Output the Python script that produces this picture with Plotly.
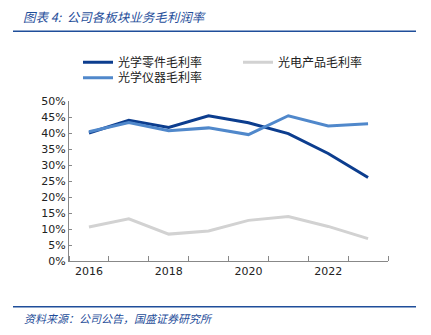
import plotly.graph_objects as go

years = [2016, 2017, 2018, 2019, 2020, 2021, 2022, 2023]
optical_parts = [0.400, 0.440, 0.417, 0.454, 0.432, 0.398, 0.336, 0.261]
optoelectronic = [0.106, 0.132, 0.084, 0.094, 0.127, 0.139, 0.108, 0.070]
optical_instruments = [0.404, 0.433, 0.407, 0.416, 0.395, 0.454, 0.422, 0.429]
series_names = ["光学零件毛利率", "光电产品毛利率", "光学仪器毛利率"]
year_ticks = [2016, 2018, 2020, 2022]
pct_ticks = [0, 0.05, 0.10, 0.15, 0.20, 0.25, 0.30, 0.35, 0.40, 0.45, 0.50]

W, H = 431, 335
L, R, T, B = 69, 388, 100.7, 260.7

def px(x):
    return (x - L) / (R - L)

def py(y):
    return (B - y) / (B - T)

cjk = "Noto Sans CJK SC"
blue = "#1F4E9A"

fig = go.Figure()
colors = ["#0C3D8E", "#D2D2D2", "#5088CB"]
legends = ["legend", "legend2", "legend3"]
for name, vals, c, lg in zip(series_names, [optical_parts, optoelectronic, optical_instruments], colors, legends):
    fig.add_trace(go.Scatter(x=years, y=vals, mode="lines", name=name, legend=lg,
                             line=dict(color=c, width=3)))

leg_common = dict(xanchor="left", yanchor="top", font=dict(family=cjk, size=12, color="#222"),
                  bgcolor="rgba(0,0,0,0)", itemwidth=30)

fig.update_layout(
    width=W, height=H,
    margin=dict(l=L, r=W - R, t=T, b=H - B),
    paper_bgcolor="white", plot_bgcolor="white",
    showlegend=True,
    legend=dict(x=px(78), y=py(47.5), **leg_common),
    legend2=dict(x=px(238), y=py(47.5), **leg_common),
    legend3=dict(x=px(78), y=py(63), **leg_common),
    xaxis=dict(range=[2015.5, 2023.5], tickvals=year_ticks, ticktext=[str(v) for v in year_ticks],
               ticks="", showgrid=False, zeroline=False, showline=True, linecolor="#888888", linewidth=1,
               tickfont=dict(family="DejaVu Sans", size=11, color="#222"),
               minor=dict(ticks="inside", tick0=2015.5, dtick=1, ticklen=5, tickcolor="#888888", showgrid=False)),
    yaxis=dict(range=[0, 0.5], tickvals=pct_ticks, tickformat=".0%",
               ticks="inside", ticklen=3, tickcolor="#888888",
               showgrid=False, zeroline=False, showline=True, linecolor="#888888", linewidth=1,
               tickfont=dict(family="DejaVu Sans", size=11, color="#222")),
)

fig.add_shape(type="line", xref="paper", yref="paper", x0=px(13), x1=px(416), y0=py(31), y1=py(31),
              line=dict(color=blue, width=1.5))
fig.add_shape(type="line", xref="paper", yref="paper", x0=px(13), x1=px(416), y0=py(306.5), y1=py(306.5),
              line=dict(color=blue, width=1.5))
fig.add_annotation(xref="paper", yref="paper", x=px(21), y=py(16), xanchor="left", yanchor="middle",
                   text="图表 4:  公司各板块业务毛利润率", showarrow=False,
                   font=dict(family=cjk, size=12.5, color=blue, style="italic"))
fig.add_annotation(xref="paper", yref="paper", x=px(22), y=py(318), xanchor="left", yanchor="middle",
                   text="资料来源：公司公告，国盛证券研究所", showarrow=False,
                   font=dict(family=cjk, size=11, color=blue, style="italic"))

fig.write_html("out.html")
